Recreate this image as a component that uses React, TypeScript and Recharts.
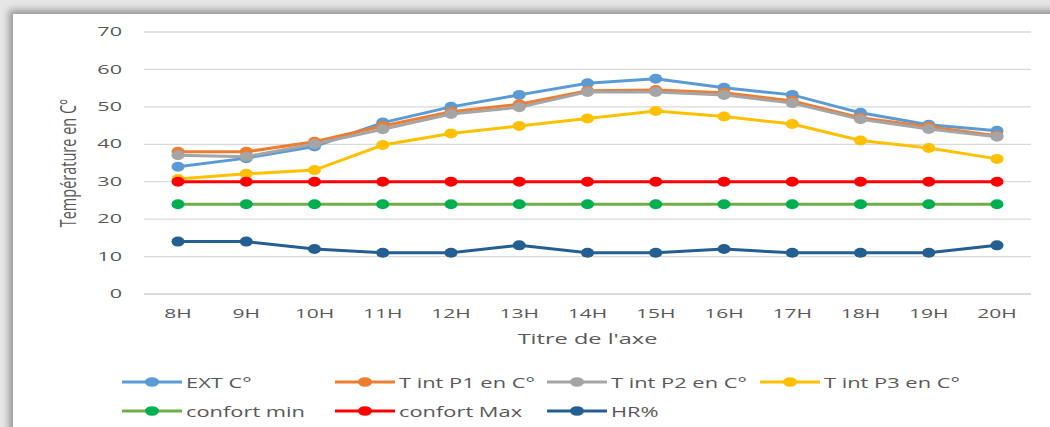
import { LineChart, Line, XAxis, YAxis, CartesianGrid } from "recharts";

// heures de mesure
const hours = ["8H", "9H", "10H", "11H", "12H", "13H", "14H", "15H", "16H", "17H", "18H", "19H", "20H"];

// températures (°C)
const extC = [34, 36.3, 39.4, 45.8, 50, 53.2, 56.3, 57.5, 55.1, 53.2, 48.4, 45.2, 43.6];
const tintP1 = [38, 38, 40.7, 44.9, 48.7, 50.7, 54.3, 54.5, 53.8, 51.6, 47.1, 44.7, 42.3];
const tintP2 = [37.1, 36.7, 40.1, 44, 48.1, 49.9, 54, 54, 53.2, 51, 46.7, 44.1, 42];
const tintP3 = [30.7, 32.1, 33.1, 39.8, 42.9, 44.9, 46.9, 48.9, 47.4, 45.4, 41, 39, 36.1];
const confortMin = [24, 24, 24, 24, 24, 24, 24, 24, 24, 24, 24, 24, 24];
const confortMax = [30, 30, 30, 30, 30, 30, 30, 30, 30, 30, 30, 30, 30];
const hr = [14, 14, 12, 11, 11, 13, 11, 11, 12, 11, 11, 11, 13];

const yTicks = [0, 10, 20, 30, 40, 50, 60, 70];

const series = [
  { key: "ext", name: "EXT C°", values: extC, line: "#5B9BD5", dot: "#5B9BD5" },
  { key: "p1", name: "T int P1 en C°", values: tintP1, line: "#ED7D31", dot: "#ED7D31" },
  { key: "p2", name: "T int P2 en C°", values: tintP2, line: "#A5A5A5", dot: "#A5A5A5" },
  { key: "p3", name: "T int P3 en C°", values: tintP3, line: "#FFC000", dot: "#FFC000" },
  { key: "cmin", name: "confort min", values: confortMin, line: "#70AD47", dot: "#00B050" },
  { key: "cmax", name: "confort Max", values: confortMax, line: "#FF0000", dot: "#FF0000" },
  { key: "hr", name: "HR%", values: hr, line: "#255E91", dot: "#255E91" },
];

const data = hours.map((h, i) => {
  const row: Record<string, string | number> = { hour: h };
  series.forEach((s) => {
    row[s.key] = s.values[i];
  });
  return row;
});

const FONT = "'Open Sans', sans-serif";
const TEXT = "#595959";

const YTick = (props: any) => {
  const { x, y, payload } = props;
  return (
    <g transform={`translate(${x},${y})`}>
      <text transform="scale(1.8,1)" textAnchor="end" dy="0.35em" fontSize={12} fill={TEXT} fontFamily={FONT}>
        {payload.value}
      </text>
    </g>
  );
};

const XTick = (props: any) => {
  const { x, y, payload } = props;
  return (
    <g transform={`translate(${x},${y})`}>
      <text transform="scale(1.75,1)" textAnchor="middle" dy="0.71em" fontSize={12} fill={TEXT} fontFamily={FONT}>
        {payload.value}
      </text>
    </g>
  );
};

const YLabel = (props: any) => {
  const { viewBox } = props;
  const cx = viewBox.x + 68;
  const cy = viewBox.y + viewBox.height / 2;
  return (
    <g transform={`translate(${cx},${cy}) scale(1.5,1) rotate(-90)`}>
      <text textAnchor="middle" dy="0.35em" fontSize={14.5} fill={TEXT} fontFamily={FONT}>
        Température en C°
      </text>
    </g>
  );
};

const XLabel = (props: any) => {
  const { viewBox } = props;
  const cx = viewBox.x + viewBox.width / 2;
  return (
    <g transform={`translate(${cx},${viewBox.y + 50})`}>
      <text transform="scale(1.57,1)" textAnchor="middle" fontSize={15} fill={TEXT} fontFamily={FONT}>
        Titre de l'axe
      </text>
    </g>
  );
};

const makeDot = (color: string) => (p: any) => (
  <ellipse key={`${p.dataKey}-${p.index}`} cx={p.cx} cy={p.cy} rx={6.5} ry={5} fill={color} />
);

export default function App() {
  return (
    <div
      style={{
        position: "fixed",
        left: 0,
        top: 0,
        width: 1050,
        height: 427,
        overflow: "hidden",
        background: "#e6e6e6",
        fontFamily: FONT,
      }}
    >
      {/* carte blanche avec ombre */}
      <div
        style={{
          position: "absolute",
          left: 13,
          top: 14,
          width: 1080,
          height: 440,
          background: "#ffffff",
          boxShadow: "-2px -2px 7px 2px rgba(0,0,0,0.35)",
        }}
      />
      <div style={{ position: "absolute", left: 0, top: 0 }}>
        <LineChart width={1050} height={360} data={data} margin={{ top: 32, right: 19, left: 0, bottom: 16 }}>
          <CartesianGrid vertical={false} stroke="#D9D9D9" strokeWidth={1.3} />
          <XAxis
            dataKey="hour"
            height={50}
            padding={{ left: 34, right: 34 }}
            tickLine={false}
            tickSize={0}
            tickMargin={15}
            axisLine={{ stroke: "#D9D9D9", strokeWidth: 1.3 }}
            tick={<XTick />}
            label={{ content: <XLabel /> } as any}
          />
          <YAxis
            width={144}
            domain={[0, 70]}
            ticks={yTicks}
            axisLine={false}
            tickLine={false}
            tickSize={0}
            tickMargin={22}
            tick={<YTick />}
            label={{ content: <YLabel /> } as any}
          />
          {series.map((s) => (
            <Line
              key={s.key}
              dataKey={s.key}
              name={s.name}
              type="linear"
              stroke={s.line}
              strokeWidth={3}
              dot={makeDot(s.dot)}
              activeDot={false}
              isAnimationActive={false}
            />
          ))}
        </LineChart>
      </div>
      {/* légende */}
      {series.map((s, i) => {
        const col = i % 4;
        const row = Math.floor(i / 4);
        return (
          <div
            key={s.key}
            style={{
              position: "absolute",
              left: 122 + col * 212.7,
              top: 382 + row * 29 - 10,
              height: 20,
              display: "flex",
              alignItems: "center",
            }}
          >
            <svg width={60} height={20} style={{ display: "block" }}>
              <line x1={0} y1={10} x2={60} y2={10} stroke={s.line} strokeWidth={3} />
              <ellipse cx={30} cy={10} rx={7} ry={4.8} fill={s.dot} />
            </svg>
            <span
              style={{
                marginLeft: 4,
                fontSize: 14,
                color: TEXT,
                whiteSpace: "nowrap",
                display: "inline-block",
                transform: "scaleX(1.56)",
                transformOrigin: "left center",
              }}
            >
              {s.name}
            </span>
          </div>
        );
      })}
    </div>
  );
}
